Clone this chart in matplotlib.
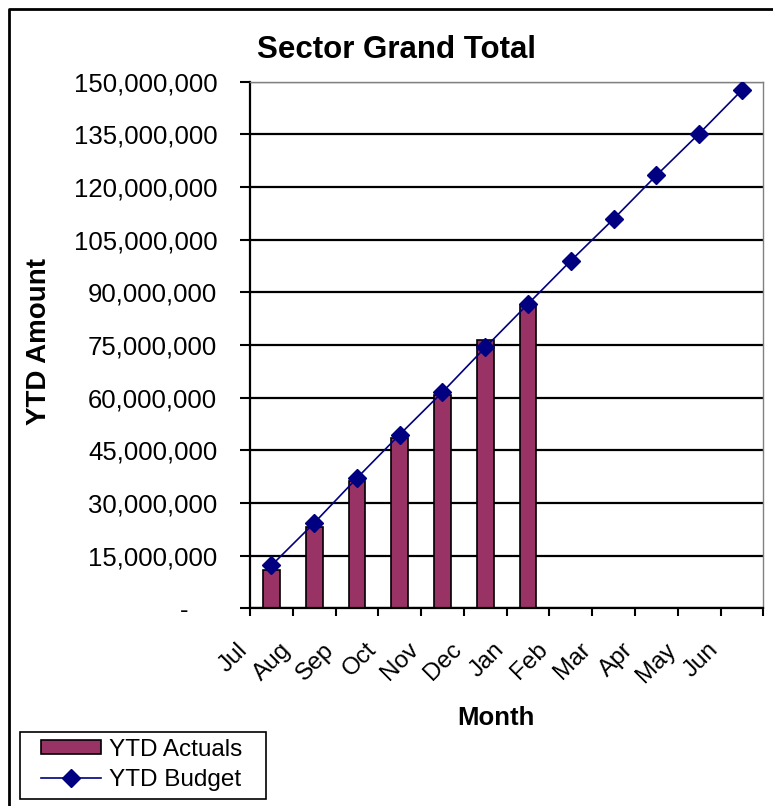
"""
Sector Grand Total: YTD actuals (bars) vs YTD budget (line), Excel-style.
"""
import matplotlib

matplotlib.use("Agg")
import matplotlib.pyplot as plt
import matplotlib.transforms as mtransforms
from matplotlib.lines import Line2D
from matplotlib.patches import Patch, Rectangle
from matplotlib.ticker import FixedLocator, FuncFormatter, MultipleLocator
import numpy as np

MONTHS = ["Jul", "Aug", "Sep", "Oct", "Nov", "Dec",
          "Jan", "Feb", "Mar", "Apr", "May", "Jun"]
YTD_ACTUALS = [10.9e6, 23.1e6, 36.2e6, 48.6e6, 60.9e6, 76.4e6, 86.2e6]
YTD_BUDGET = [12.2e6, 24.3e6, 37.1e6, 49.5e6, 61.6e6, 74.3e6,
              86.7e6, 99.0e6, 110.9e6, 123.3e6, 135.2e6, 147.6e6]

BAR_COLOR = "#993366"
LINE_COLOR = "#000080"
W, H = 773, 806

plt.rcParams["font.family"] = ["Liberation Sans", "DejaVu Sans"]


def yfmt(v, _pos):
    if abs(v) < 1:
        return "-    "
    return f"{v:,.0f}"


fig = plt.figure(figsize=(W / 100, H / 100), dpi=100)
ax = fig.add_axes([250 / W, 1 - 608.3 / H, 513.3 / W, 526.6 / H])

x = np.arange(len(MONTHS))
xa = np.arange(len(YTD_ACTUALS))
ax.bar(xa, YTD_ACTUALS, width=0.39, color=BAR_COLOR, edgecolor="black",
       linewidth=1.2, zorder=2)
ax.plot(x, YTD_BUDGET, color=LINE_COLOR, linewidth=1.2, marker="D",
        markersize=9, zorder=3)

ax.set_xlim(-0.5, len(MONTHS) - 0.5)
ax.set_ylim(0, 150e6)
ax.yaxis.set_major_locator(MultipleLocator(15e6))
ax.yaxis.set_major_formatter(FuncFormatter(yfmt))
ax.set_xticks(x)
ax.set_xticklabels(MONTHS, rotation=45, ha="right", va="top")
ax.xaxis.set_minor_locator(FixedLocator(np.arange(len(MONTHS) + 1) - 0.5))

ax.tick_params(axis="y", length=7, width=1.5, pad=16.5, labelsize=18.5)
ax.tick_params(axis="x", which="major", length=0, pad=22, labelsize=17.5)
ax.tick_params(axis="x", which="minor", length=6, width=1.5)

ax.grid(True, axis="y", color="black", linewidth=1.6)
ax.set_axisbelow(True)
grid = ax.yaxis.get_gridlines()
grid[-1].set_visible(False)

for side in ("left", "bottom"):
    ax.spines[side].set_color("black")
    ax.spines[side].set_linewidth(1.6)
for side in ("top", "right"):
    ax.spines[side].set_color("#808080")
    ax.spines[side].set_linewidth(1.0)

shift = mtransforms.ScaledTranslation(-19 / 100, 0, fig.dpi_scale_trans)
for lab in ax.get_xticklabels():
    lab.set_transform(lab.get_transform() + shift)

fig.text(396 / W, 1 - 50 / H, "Sector Grand Total", ha="center", va="center",
         fontsize=22.5, fontweight="bold")
fig.text(39 / W, 1 - 341.5 / H, "YTD Amount", ha="center", va="center",
         rotation=90, fontsize=20, fontweight="bold")
fig.text(496 / W, 1 - 718 / H, "Month", ha="center", va="center",
         fontsize=18.5, fontweight="bold")

handles = [
    Patch(facecolor=BAR_COLOR, edgecolor="black", linewidth=1.2),
    Line2D([], [], color=LINE_COLOR, linewidth=1.2, marker="D", markersize=9),
]
fig.legend(handles, ["YTD Actuals", "YTD Budget"], loc="center left",
           bbox_to_anchor=(41 / W, 1 - 765 / H), frameon=False, fontsize=17.5,
           borderpad=0, borderaxespad=0, handlelength=2.46, handleheight=0.5,
           handletextpad=0.35, labelspacing=0.35)
fig.patches.append(Rectangle((20 / W, 1 - 799 / H), 246 / W, 67 / H,
                             transform=fig.transFigure, fill=False,
                             edgecolor="black", linewidth=1.2))

fig.add_artist(Line2D([8.5 / W, 8.5 / W, 1], [0, 1 - 8.5 / H, 1 - 8.5 / H],
                      transform=fig.transFigure, color="black", linewidth=2))

fig.savefig("out.png", dpi=100)
